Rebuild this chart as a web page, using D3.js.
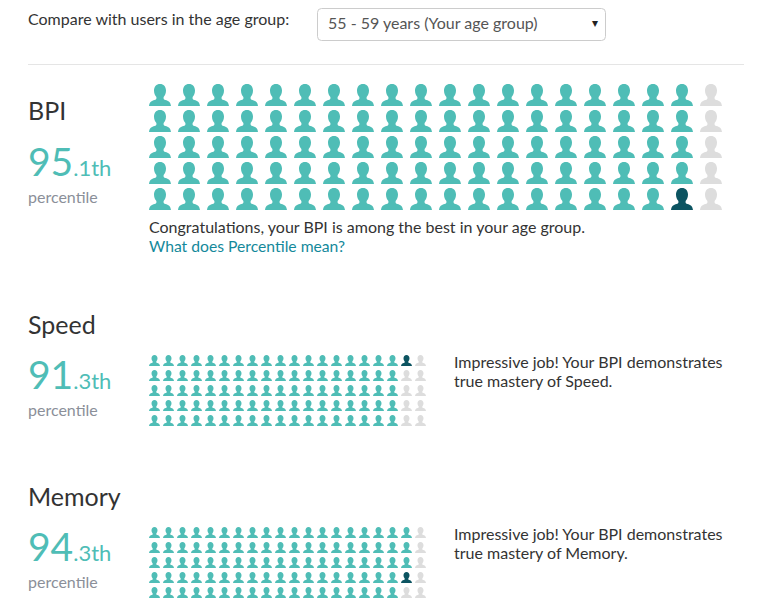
<!DOCTYPE html>
<html><head><meta charset="utf-8">
<script src="https://cdn.jsdelivr.net/npm/d3@7/dist/d3.min.js"></script>
<style>html,body{margin:0;padding:0;background:#fff;overflow:hidden}svg{display:block}text{font-family:Lato,sans-serif}</style>
</head><body><svg id="c" width="772" height="615"></svg>
<script>
const metrics = ["BPI","Speed","Memory"];
const percentiles = [95.1,91.3,94.3];
const messages = [
  ["Congratulations, your BPI is among the best in your age group."],
  ["Impressive job! Your BPI demonstrates","true mastery of Speed."],
  ["Impressive job! Your BPI demonstrates","true mastery of Memory."]
];
const promptLabel = "Compare with users in the age group:";
const selectedGroup = "55 - 59 years (Your age group)";
const linkLabel = "What does Percentile mean?";
const columns = d3.range(20), rows = d3.range(5);

const layouts = [
 {title:[28,120,25],big:[28,176,39],small:22,pct:[28,203],x:[149,729],y:[84,214],icon:22,text:[149,233],lh:19},
 {title:[28,334,25],big:[28,389,39],small:22,pct:[28,416],x:[149,429],y:[355,430],icon:11,text:[454,368],lh:19},
 {title:[28,506,25],big:[28,561,39],small:22,pct:[28,588],x:[149,429],y:[527,602],icon:11,text:[454,540],lh:19}
];
const ink="#333333",teal="#4fbdb6",dark="#0c5461",grey="#dddddd",muted="#8b8f99",link="#14899b";
const personPath="M11 0C7.4 0 5 2.7 5 6.6C5 9.3 6 11.6 7.4 13.1L7.4 14.4C7.4 15.2 6.6 15.6 5.6 15.9C2.6 16.8 .4 17.8 0 22L22 22C21.6 17.8 19.4 16.8 16.4 15.9C15.4 15.6 14.6 15.2 14.6 14.4L14.6 13.1C16 11.6 17 9.3 17 6.6C17 2.7 14.6 0 11 0Z";
const svg=d3.select("#c");
svg.append("text").attr("x",28).attr("y",25).attr("font-size",16).attr("fill",ink).text(promptLabel);
svg.append("rect").attr("x",317.5).attr("y",8.5).attr("width",288).attr("height",32).attr("rx",4).attr("fill","#fff").attr("stroke","#cccccc");
svg.append("text").attr("x",328).attr("y",29).attr("font-size",16).attr("fill","#555").text(selectedGroup);
svg.append("text").attr("x",592).attr("y",27).attr("font-size",12).attr("fill","#222").text("▾");
svg.append("line").attr("x1",28).attr("x2",744).attr("y1",64.5).attr("y2",64.5).attr("stroke","#e5e5e5");

metrics.forEach((m,k)=>{
  const L=layouts[k],p=percentiles[k],filled=Math.floor(p);
  const whole=String(filled),frac="."+Math.round((p-filled)*10)+"th";
  svg.append("text").attr("x",L.title[0]).attr("y",L.title[1]).attr("font-size",L.title[2]).attr("fill",ink).text(m);
  const b=svg.append("text").attr("x",L.big[0]).attr("y",L.big[1]).attr("fill",teal);
  b.append("tspan").attr("font-size",L.big[2]).text(whole);
  b.append("tspan").attr("font-size",L.small).text(frac);
  svg.append("text").attr("x",L.pct[0]).attr("y",L.pct[1]).attr("font-size",16).attr("fill",muted).text("percentile");
  const xs=d3.scaleBand().domain(columns).range(L.x).paddingInner(0).paddingOuter(0);
  const ys=d3.scaleBand().domain(rows).range(L.y);
  const s=L.icon/22;
  const cells=d3.range(100).map(i=>({i,c:Math.floor(i/5),r:i%5}));
  svg.append("g").selectAll("path").data(cells).join("path")
    .attr("d",personPath)
    .attr("transform",d=>`translate(${xs(d.c)},${ys(d.r)}) scale(${s})`)
    .attr("fill",d=>d.i===filled-1?dark:d.i<filled?teal:grey);
  messages[k].forEach((t,j)=>svg.append("text").attr("x",L.text[0]).attr("y",L.text[1]+j*L.lh).attr("font-size",16).attr("fill",ink).text(t));
  if(k===0) svg.append("text").attr("x",L.text[0]).attr("y",L.text[1]+L.lh).attr("font-size",15.7).attr("fill",link).text(linkLabel);
});
</script></body></html>
